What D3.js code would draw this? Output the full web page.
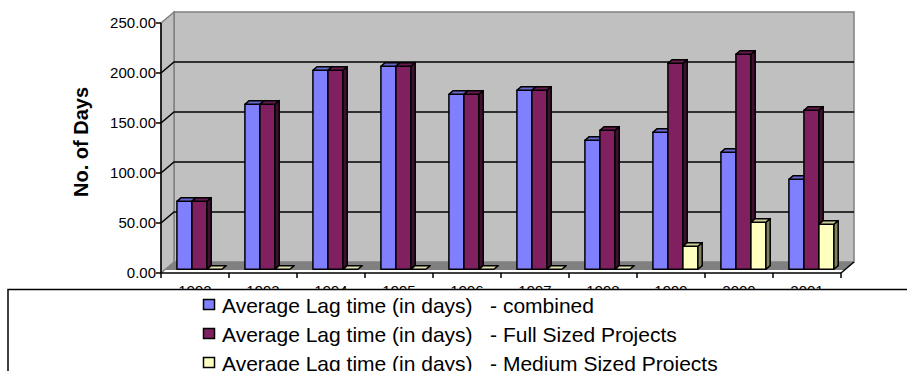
<!DOCTYPE html>
<html lang="en">
<head>
  <meta charset="UTF-8">
  <script src="https://d3js.org/d3.v7.min.js"></script>
  <title>lag time</title>
  <style>
    body { margin: 0; background: #fff; }
    text { font-family: "Liberation Sans", Arial, sans-serif; }
  </style>
</head>
<body>
  <svg id="chart" width="907" height="371"></svg>
  <script>
    // data
    const years = ["1992", "1993", "1994", "1995", "1996", "1997", "1998", "1999", "2000", "2001"];
    const combined = [68, 165, 199, 203, 175, 179, 129, 137, 117, 90];
    const fullSized = [68, 165, 199, 203, 175, 179, 139, 206, 215, 159];
    const mediumSized = [0, 0, 0, 0, 0, 0, 0, 23, 47, 45];
    const yTicks = [0, 50, 100, 150, 200, 250];
    const seriesNames = [
      "Average Lag time (in days)   - combined",
      "Average Lag time (in days)   - Full Sized Projects",
      "Average Lag time (in days)   - Medium Sized Projects"
    ];
    const seriesKeys = ["combined", "full", "medium"];

    const svg = d3.select("#chart");

    const x = d3.scaleBand().domain(years).range([161, 841]);
    const inner = d3.scaleBand().domain(seriesKeys).range([11.5, 56.5]);
    const y = d3.scaleLinear().domain([0, 250]).range([273, 23]);
    const color = d3.scaleOrdinal().domain(seriesKeys).range(["#8080ff", "#802060", "#ffffc0"]);
    const topColor = d3.scaleOrdinal().domain(seriesKeys).range(["#6666cc", "#661a4d", "#cccc9a"]);
    const sideColor = d3.scaleOrdinal().domain(seriesKeys).range(["#404080", "#401030", "#808060"]);

    // depth offset (full depth of the box)
    const DX = 13, DY = -11;
    const P = (px, py, f) => [px + DX * f, py + DY * f];
    const poly = pts => pts.map(p => p.join(",")).join(" ");

    const x0 = x.range()[0], x1 = x.range()[1];
    const yTop = y(250), yBase = y(0);

    // back wall
    svg.append("polygon")
      .attr("points", poly([P(x0, yTop, 1), P(x1, yTop, 1), P(x1, yBase, 1), P(x0, yBase, 1)]))
      .attr("fill", "#c0c0c0").attr("stroke", "#808080").attr("stroke-width", 1.5);
    // side wall
    svg.append("polygon")
      .attr("points", poly([P(x0, yTop, 0), P(x0, yTop, 1), P(x0, yBase, 1), P(x0, yBase, 0)]))
      .attr("fill", "#c0c0c0").attr("stroke", "#808080").attr("stroke-width", 1.5);

    // gridlines on back wall and side wall
    const grid = svg.append("g");
    yTicks.filter(t => t > 0 && t < 250).forEach(t => {
      grid.append("polyline")
        .attr("points", poly([P(x0, y(t), 0), P(x0, y(t), 1), P(x1, y(t), 1)]))
        .attr("fill", "none").attr("stroke", "#000").attr("stroke-width", 1.5);
    });

    // floor
    svg.append("polygon")
      .attr("points", poly([P(x0, yBase, 0.27), P(x1, yBase, 0.27), P(x1, yBase, 1), P(x0, yBase, 1)]))
      .attr("fill", "#808080");
    svg.append("line")
      .attr("x1", P(x1, yBase, 0)[0]).attr("y1", yBase)
      .attr("x2", P(x1, yBase, 1)[0]).attr("y2", P(x1, yBase, 1)[1])
      .attr("stroke", "#000").attr("stroke-width", 1.5);

    // bars
    const f0 = 0.34, f1 = 0.67;
    const bars = svg.append("g");
    years.forEach((yr, i) => {
      const vals = { combined: combined[i], full: fullSized[i], medium: mediumSized[i] };
      seriesKeys.forEach(k => {
        const bx0 = x(yr) + inner(k), bx1 = bx0 + inner.bandwidth();
        const v = vals[k];
        const a = P(bx0, y(v), f0), b = P(bx1, y(v), f0);
        const c = P(bx1, y(v), f1), d = P(bx0, y(v), f1);
        const bb = P(bx1, y(0), f0), bc = P(bx1, y(0), f1), ba = P(bx0, y(0), f0);
        const g = bars.append("g").attr("stroke", "#000").attr("stroke-width", 1.5).attr("stroke-linejoin", "round");
        if (v > 0) {
          g.append("polygon").attr("points", poly([a, b, bb, ba])).attr("fill", color(k));
          g.append("polygon").attr("points", poly([b, c, bc, bb])).attr("fill", sideColor(k));
        }
        g.append("polygon").attr("points", poly([a, b, c, d])).attr("fill", v > 0 ? topColor(k) : "#e0e0b0");
      });
    });

    // front axes
    svg.append("line").attr("x1", x0).attr("x2", x0).attr("y1", yTop).attr("y2", yBase)
      .attr("stroke", "#000").attr("stroke-width", 1.5);
    svg.append("line").attr("x1", x0).attr("x2", x1).attr("y1", yBase).attr("y2", yBase)
      .attr("stroke", "#000").attr("stroke-width", 1.5);

    const yAxis = svg.append("g");
    yTicks.forEach(t => {
      yAxis.append("line").attr("x1", x0 - 5).attr("x2", x0).attr("y1", y(t)).attr("y2", y(t))
        .attr("stroke", "#000").attr("stroke-width", 1.5);
      yAxis.append("text").attr("x", 156).attr("y", y(t)).attr("dy", "0.36em")
        .attr("text-anchor", "end").attr("font-size", 15).text(t.toFixed(2));
    });

    const xAxis = svg.append("g");
    years.concat([null]).forEach((yr, i) => {
      const tx = x0 + i * x.step();
      xAxis.append("line").attr("x1", tx).attr("x2", tx).attr("y1", yBase).attr("y2", yBase + 5)
        .attr("stroke", "#000").attr("stroke-width", 1.5);
    });
    years.forEach(yr => {
      xAxis.append("text").attr("x", x(yr) + x.bandwidth() / 2).attr("y", 296)
        .attr("text-anchor", "middle").attr("font-size", 15).text(yr);
    });

    // y title
    svg.append("text")
      .attr("transform", "translate(88,142) rotate(-90)")
      .attr("text-anchor", "middle").attr("font-size", 20).attr("font-weight", "bold")
      .text("No. of Days");

    // legend box, covers the year labels
    const legend = svg.append("g");
    legend.append("rect").attr("x", 8).attr("y", 289.5).attr("width", 1000).attr("height", 200)
      .attr("fill", "#fff").attr("stroke", "#000").attr("stroke-width", 1.5);
    seriesKeys.forEach((k, i) => {
      const ly = 313 + i * 29;
      legend.append("rect").attr("x", 203.5).attr("y", ly - 13.5).attr("width", 11).attr("height", 10)
        .attr("fill", color(k)).attr("stroke", "#000").attr("stroke-width", 1.5);
      legend.append("text").attr("x", 222).attr("y", ly).attr("font-size", 21)
        .style("white-space", "pre").text(seriesNames[i]);
    });
  </script>
</body>
</html>
